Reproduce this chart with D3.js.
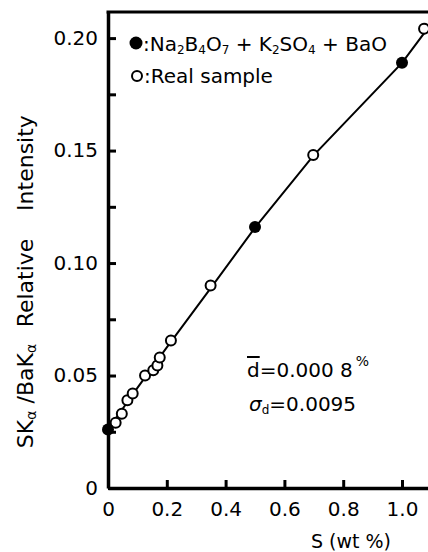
<!DOCTYPE html>
<html>
<head>
<meta charset="utf-8">
<script src="https://cdn.jsdelivr.net/npm/d3@7"></script>
<style>
  html, body { margin: 0; padding: 0; background: #fff; }
  svg { display: block; font-family: "DejaVu Sans", sans-serif; }
  .axis path, .axis line { stroke: #000; }
  .axis text { font-family: "DejaVu Sans", sans-serif; font-size: 20px; fill: #000; }
</style>
</head>
<body>
<div id="chart"></div>
<script>
// standard samples (Na2B4O7 + K2SO4 + BaO), filled circles
var stdX = [0, 0.5, 1.0]
var stdY = [0.026, 0.116, 0.189]

// real samples, open circles
var realX = [0.026, 0.047, 0.066, 0.084, 0.126, 0.154, 0.168, 0.176, 0.214, 0.349, 0.698, 1.075]
var realY = [0.029, 0.033, 0.039, 0.042, 0.050, 0.0523, 0.0545, 0.058, 0.0656, 0.090, 0.148, 0.2042]

// calibration curve
var curveX = [0, 0.1, 0.2, 0.35, 0.5, 0.7, 1.0, 1.1]
var curveY = [0.026, 0.0445, 0.0625, 0.089, 0.1157, 0.148, 0.189, 0.2065]

var xTicks = [0, 0.2, 0.4, 0.6, 0.8, 1.0]
var xTickLabels = ["0", "0.2", "0.4", "0.6", "0.8", "1.0"]
var yTicks = [0, 0.025, 0.05, 0.075, 0.10, 0.125, 0.15, 0.175, 0.20]
var yTickLabels = ["0", "", "0.05", "", "0.10", "", "0.15", "", "0.20"]

var W = 428, H = 552
var plotLeft = 108, plotBottom = 488, plotTop = 12

var x = d3.scaleLinear().domain([0, 1.0884]).range([plotLeft, W])
var y = d3.scaleLinear().domain([0, 0.2116]).range([plotBottom, plotTop])

var svg = d3.select("#chart")
  .append("svg")
    .attr("width", W)
    .attr("height", H)

// axes
var xAxis = d3.axisBottom(x)
  .tickValues(xTicks)
  .tickFormat(function(d, i) { return xTickLabels[i] })
  .tickSizeInner(-8)
  .tickSizeOuter(0)
  .tickPadding(14)

var yAxis = d3.axisLeft(y)
  .tickValues(yTicks)
  .tickFormat(function(d, i) { return yTickLabels[i] })
  .tickSizeInner(-8)
  .tickSizeOuter(0)
  .tickPadding(10)

var gx = svg.append("g")
  .attr("class", "axis")
  .attr("transform", "translate(0," + plotBottom + ")")
  .call(xAxis)
gx.select(".domain").attr("stroke-width", 3.5)
gx.selectAll(".tick line").attr("stroke-width", 3)

var gy = svg.append("g")
  .attr("class", "axis")
  .attr("transform", "translate(" + plotLeft + ",0)")
  .call(yAxis)
gy.select(".domain").attr("stroke-width", 3.5)
gy.selectAll(".tick line").attr("stroke-width", 3)

// top frame
svg.append("line")
  .attr("x1", plotLeft - 1.5).attr("x2", W)
  .attr("y1", plotTop).attr("y2", plotTop)
  .attr("stroke", "#000")
  .attr("stroke-width", 3)

// calibration line
var line = d3.line()
  .x(function(d) { return x(d[0]) })
  .y(function(d) { return y(d[1]) })

svg.append("path")
  .datum(d3.zip(curveX, curveY))
  .attr("fill", "none")
  .attr("stroke", "#000")
  .attr("stroke-width", 2)
  .attr("d", line)

svg.selectAll("circle.real")
  .data(d3.zip(realX, realY))
  .enter().append("circle")
    .attr("class", "real")
    .attr("cx", function(d) { return x(d[0]) })
    .attr("cy", function(d) { return y(d[1]) })
    .attr("r", 5)
    .attr("fill", "#fff")
    .attr("stroke", "#000")
    .attr("stroke-width", 2)

svg.selectAll("circle.std")
  .data(d3.zip(stdX, stdY))
  .enter().append("circle")
    .attr("class", "std")
    .attr("cx", function(d) { return x(d[0]) })
    .attr("cy", function(d) { return y(d[1]) })
    .attr("r", 6)
    .attr("fill", "#000")

// legend
var legend = svg.append("g")
legend.append("circle")
  .attr("cx", 136).attr("cy", 43).attr("r", 6.5).attr("fill", "#000")
legend.append("circle")
  .attr("cx", 137).attr("cy", 76).attr("r", 5)
  .attr("fill", "none").attr("stroke", "#000").attr("stroke-width", 2)

function chem(g, parts, xPos, yPos) {
  var t = g.append("text")
    .attr("x", xPos).attr("y", yPos)
    .attr("font-size", 20)
  parts.forEach(function(p) {
    var s = t.append("tspan").text(p[0])
    if (p[1] === "sub") s.attr("font-size", 12).attr("dy", 3)
    else if (p[1] === "back") s.attr("dy", -3)
  })
  return t
}

chem(legend, [[":Na"], ["2", "sub"], ["B", "back"], ["4", "sub"], ["O", "back"], ["7", "sub"],
  [" + K", "back"], ["2", "sub"], ["SO", "back"], ["4", "sub"], [" + BaO", "back"]], 143, 51)

legend.append("text")
  .attr("x", 144).attr("y", 83)
  .attr("font-size", 20)
  .text(":Real sample")

// annotation
var note = svg.append("text")
  .attr("x", 247).attr("y", 377)
  .attr("font-size", 20)
note.append("tspan").text("d").style("text-decoration", "overline")
note.append("tspan").text("=0.000 8")
note.append("tspan").text("%").attr("font-size", 14).attr("dy", -11).attr("dx", 3)

var note2 = svg.append("text")
  .attr("x", 249).attr("y", 411)
  .attr("font-size", 20)
note2.append("tspan").text("σ").attr("font-style", "italic")
note2.append("tspan").text("d").attr("font-size", 12).attr("dy", 3)
note2.append("tspan").text("=0.0095").attr("dy", -3)

// axis titles
svg.append("text")
  .attr("x", 351).attr("y", 548)
  .attr("text-anchor", "middle")
  .attr("font-size", 19)
  .text("S (wt %)")

var ytitle = svg.append("g")
  .attr("transform", "translate(33,0) rotate(-90)")

var t1 = ytitle.append("text")
  .attr("x", -396).attr("y", 0)
  .attr("text-anchor", "middle")
  .attr("font-size", 22)
t1.append("tspan").text("SK")
t1.append("tspan").text("α").attr("font-size", 14).attr("dy", 3)
t1.append("tspan").text(" /BaK").attr("dy", -3)
t1.append("tspan").text("α").attr("font-size", 14).attr("dy", 3)

ytitle.append("text")
  .attr("x", -283).attr("y", 0)
  .attr("text-anchor", "middle")
  .attr("font-size", 22)
  .text("Relative")

ytitle.append("text")
  .attr("x", -163).attr("y", 0)
  .attr("text-anchor", "middle")
  .attr("font-size", 22)
  .text("Intensity")
</script>
</body>
</html>
